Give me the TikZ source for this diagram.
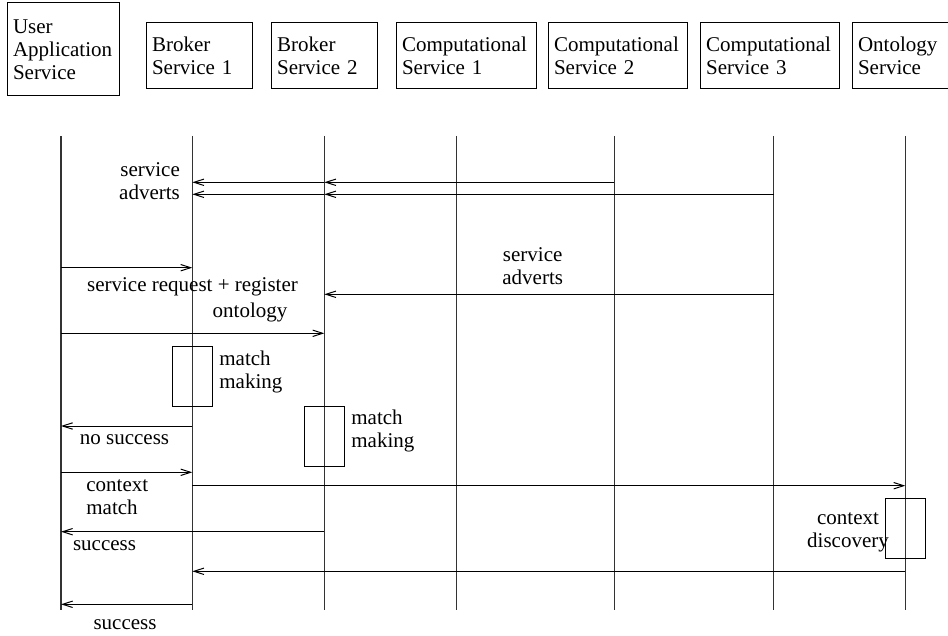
\documentclass[tikz,border=0pt]{standalone}
\usepackage{fontspec}
\setmainfont{Liberation Serif}
\usetikzlibrary{arrows.meta}
\begin{document}
\begin{tikzpicture}[x=0.5pt,y=-0.5pt,
  every node/.style={font=\fontsize{10.5}{11.6}\selectfont},
  svc/.style={draw, line width=0.5pt, minimum height=33pt, inner xsep=3pt, align=left},
  life/.style={line width=0.55pt, draw=black!80},
  msg/.style={line width=0.5pt, -{Straight Barb[length=5pt,width=3.2pt]}},
  act/.style={draw, line width=0.5pt, minimum width=20pt, minimum height=30pt, inner sep=0pt},
  lbl/.style={inner sep=0pt}]
\useasboundingbox (0,0) rectangle (948,636);
% service boxes
\node[svc, minimum height=46.5pt, text width=50pt] (uas) at (63,49.5) {User\\Application\\Service};
\node[svc, text width=47pt] (b1) at (199,56) {Broker\\Service 1};
\node[svc, text width=47pt] (b2) at (324.2,56) {Broker\\Service 2};
\node[svc, text width=64pt] (c1) at (466,56) {Computational\\Service 1};
\node[svc, text width=63.5pt] (c2) at (617.5,56) {Computational\\Service 2};
\node[svc, text width=63.5pt] (c3) at (769.7,56) {Computational\\Service 3};
\node[svc, text width=44pt] (on) at (902,56) {Ontology\\Service};
% lifelines
\foreach \n/\x in {u/61,l1/192.3,l2/324.3,l3/456.3,l4/614.3,l5/773.5,l6/905.3}{
  \coordinate (\n-t) at (\x,136);
  \coordinate (\n-b) at (\x,610);
  \draw[life] (\n-t) -- (\n-b);
}
% rows
\foreach \r/\y in {r1/182.3,r2/194.3,r3/267.7,r4/294.3,r5/333.3,r6/426,r7/472.3,r8/485.7,r9/531.7,r10/571.3,r11/604.3}{
  \coordinate (\r) at (0,\y);
}
% messages
\draw[msg] (l4-t |- r1) -- (l2-t |- r1);
\draw[msg] (l2-t |- r1) -- (l1-t |- r1);
\draw[msg] (l5-t |- r2) -- (l2-t |- r2);
\draw[msg] (l2-t |- r2) -- (l1-t |- r2);
\draw[msg] (u-t |- r3) -- (l1-t |- r3);
\draw[msg] (l5-t |- r4) -- (l2-t |- r4);
\draw[msg] (u-t |- r5) -- (l2-t |- r5);
\draw[msg] (l1-t |- r6) -- (u-t |- r6);
\draw[msg] (u-t |- r7) -- (l1-t |- r7);
\draw[msg] (l1-t |- r8) -- (l6-t |- r8);
\draw[msg] (l2-t |- r9) -- (u-t |- r9);
\draw[msg] (l6-t |- r10) -- (l1-t |- r10);
\draw[msg] (l1-t |- r11) -- (u-t |- r11);
% activation boxes
\node[act] (mm1) at (192.3,376.5) {};
\node[act] (mm2) at (324.2,436) {};
\node[act] (cd) at (905.2,528.5) {};
% labels
\node[lbl, align=right] (adv1) at (149.5,181) {service\\adverts};
\node[lbl, align=center] (adv2) at (532.7,266.5) {service\\adverts};
\node[lbl] (req1) at (192.5,287) {service request + register};
\node[lbl] (req2) at (250,312) {ontology};
\node[lbl, align=left, anchor=west] (mmt1) at (219,372) {match\\making};
\node[lbl, align=left, anchor=west] (mmt2) at (351,431) {match\\making};
\node[lbl] (nos) at (124.5,440) {no success};
\node[lbl, align=left, anchor=west] (cm) at (86,497) {context\\match};
\node[lbl] (suc1) at (104.5,546) {success};
\node[lbl] (suc2) at (125,625) {success};
\node[lbl, align=center] (cdt) at (848,532.5) {context\\discovery};
\end{tikzpicture}
\end{document}
